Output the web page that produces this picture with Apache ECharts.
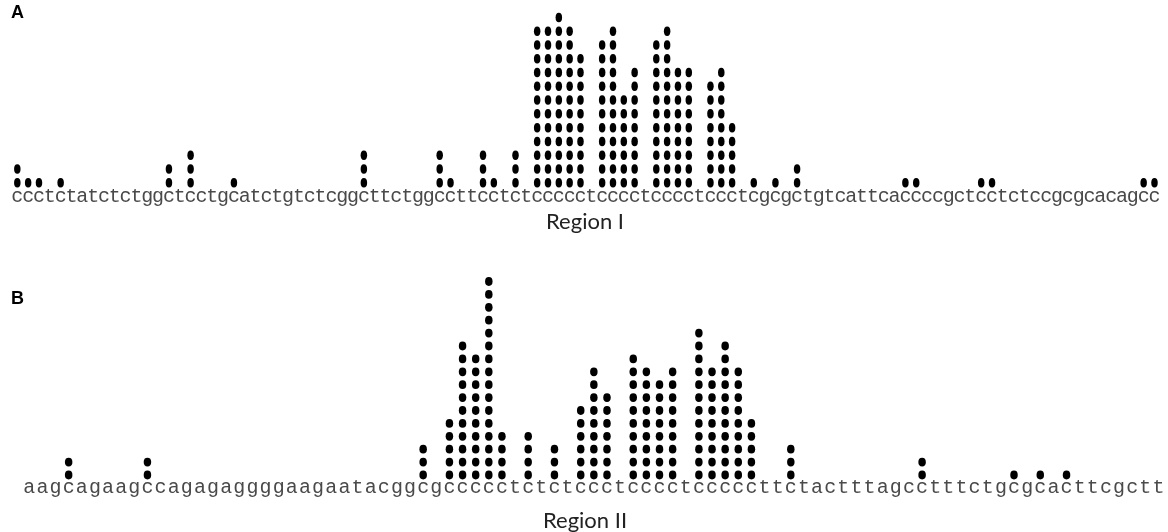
<!DOCTYPE html>
<html>
<head>
<meta charset="utf-8">
<script src="https://cdn.jsdelivr.net/npm/echarts@6/dist/echarts.min.js"></script>
<style>
html, body { margin: 0; padding: 0; background: #fff; }
#chart { width: 1168px; height: 532px; }
</style>
</head>
<body>
<div id="chart"></div>
<script>
// Region I: sequence, positions (0-based) of the stacks and dots in each stack
var seqA = 'ccctctatctctggctcctgcatctgtctcggcttctggccttcctctccccctcccctcccctccctcgcgctgtcattcaccccgctcctctccgcgcacagcc';
var posA = [0, 1, 2, 4, 14, 16, 20, 32, 39, 40, 43, 44, 46, 48, 49, 50, 51, 52, 54, 55, 56, 57, 59, 60, 61, 62, 64, 65, 66, 68, 70, 72, 82, 83, 89, 90, 104, 105];
var dotsA = [2, 1, 1, 1, 2, 3, 1, 3, 3, 1, 3, 1, 3, 12, 12, 13, 12, 10, 11, 12, 7, 9, 11, 12, 9, 9, 8, 9, 5, 1, 1, 2, 1, 1, 1, 1, 1, 1];

// Region II
var seqB = 'aagcagaagccagagaggggaagaatacggcgccccctctctccctcccctcccccttctactttagcctttctgcgcacttcgctt';
var posB = [3, 9, 30, 32, 33, 34, 35, 36, 38, 40, 42, 43, 44, 46, 47, 48, 49, 51, 52, 53, 54, 55, 58, 68, 75, 77, 79];
var dotsB = [2, 2, 3, 5, 11, 10, 16, 4, 4, 3, 6, 9, 7, 10, 9, 8, 9, 12, 9, 11, 9, 5, 3, 2, 1, 1, 1];

var titles = ['Region I', 'Region II'];
var panelLabels = ['A', 'B'];

// one point per dot, stacked 1..n above its letter
function stackPoints(pos, dots) {
    var pts = [];
    for (var i = 0; i < pos.length; i++) {
        for (var k = 1; k <= dots[i]; k++) {
            pts.push([pos[i], k]);
        }
    }
    return pts;
}

var ellipse = 'path://M0,50 A50,50 0 1,1 100,50 A50,50 0 1,1 0,50 Z';

function seqAxis(seq, gridIndex) {
    return {
        type: 'category',
        gridIndex: gridIndex,
        data: seq.split(''),
        boundaryGap: true,
        axisLine: { show: false },
        axisTick: { show: false },
        splitLine: { show: false },
        axisLabel: {
            interval: 0,
            margin: 0,
            verticalAlign: 'middle',
            fontFamily: 'Liberation Mono',
            fontSize: 20,
            color: '#4a4a4a'
        }
    };
}

function countAxis(max, gridIndex) {
    return {
        type: 'value',
        gridIndex: gridIndex,
        min: 0,
        max: max,
        show: false
    };
}

var chart = echarts.init(document.getElementById('chart'), null, { renderer: 'canvas' });

chart.setOption({
    backgroundColor: '#fff',
    animation: false,
    grid: [
        { left: 11.9, width: 1148, top: 3.7, height: 192.8 },
        { left: 22.7, width: 1142.3, top: 268.6, height: 219.3 }
    ],
    xAxis: [seqAxis(seqA, 0), seqAxis(seqB, 1)],
    yAxis: [countAxis(14, 0), countAxis(17, 1)],
    series: [
        {
            type: 'scatter',
            xAxisIndex: 0,
            yAxisIndex: 0,
            symbol: ellipse,
            symbolSize: [6.5, 9.5],
            itemStyle: { color: '#000', opacity: 1 },
            data: stackPoints(posA, dotsA)
        },
        {
            type: 'scatter',
            xAxisIndex: 1,
            yAxisIndex: 1,
            symbol: ellipse,
            symbolSize: [7.5, 8.8],
            itemStyle: { color: '#000', opacity: 1 },
            data: stackPoints(posB, dotsB)
        }
    ],
    graphic: [
        { type: 'text', x: 11, y: 4, style: { text: panelLabels[0], font: 'bold 18px Liberation Sans', fill: '#000' } },
        { type: 'text', x: 11, y: 290, style: { text: panelLabels[1], font: 'bold 18px Liberation Sans', fill: '#000' } },
        { type: 'text', x: 585, y: 222, style: { text: titles[0], font: '22px Lato', fill: '#222', align: 'center', verticalAlign: 'middle' } },
        { type: 'text', x: 585, y: 521, style: { text: titles[1], font: '22px Lato', fill: '#222', align: 'center', verticalAlign: 'middle' } }
    ]
});
</script>
</body>
</html>
